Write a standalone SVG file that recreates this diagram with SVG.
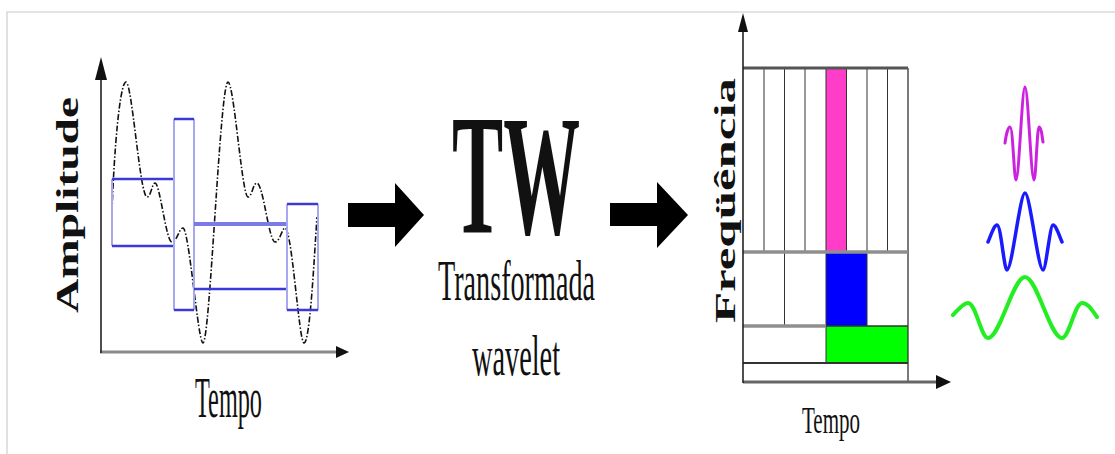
<svg xmlns="http://www.w3.org/2000/svg" width="1115" height="454" viewBox="0 0 1115 454">
<style>
.serif{font-family:"Liberation Serif","Times New Roman",serif;fill:#111}
.bold{font-weight:bold}
.ax{stroke:#222;stroke-width:1.6;fill:none}
.axg{stroke:#8a8a8a;stroke-width:3;fill:none}
.bh{stroke:#3a3ad8;stroke-width:2.5}
.bv{stroke:#a8a8f2;stroke-width:2}
.vl{stroke:#333;stroke-width:1}
.hl{stroke:#8f8f8f;stroke-width:3.5}
</style>
<defs>
<marker id="ah" markerWidth="12" markerHeight="12" viewBox="0 0 12 12" refX="11" refY="6" orient="auto" markerUnits="userSpaceOnUse">
<path d="M0,1 L12,6 L0,11 Z" fill="#111"/>
</marker>
</defs>
<rect width="1115" height="454" fill="#fff"/>
<path d="M7,454 V12 H1115" fill="none" stroke="#dadada" stroke-width="1.6"/>

<g id="signal-plot">
<line class="axg" x1="100" y1="352" x2="338" y2="352"/>
<path d="M336,346 L349,352 L336,358 Z" fill="#111"/>
<line class="ax" x1="101" y1="353" x2="101" y2="70"/>
<path d="M95,80 L101,57 L107,80 Z" fill="#111"/>
<path d="M112,212 C114,150 120,82 126,82 C132,82 140,197 147,197 C151,197 152,183 155,183 C160,183 166,242 172,242 C177,242 179,228 183,228 C189,228 198,343 203,343 C210,343 220,82 228,82 C234,82 242,197 248,197 C252,197 253,183 257,183 C263,183 269,242 275,242 C280,242 282,228 285,228 C292,228 299,343 304,343 C310,343 314,260 317,217" fill="none" stroke="#111" stroke-width="1.6" stroke-dasharray="6 2 1.5 2"/>
<g>
<line class="bv" x1="112" y1="179" x2="112" y2="246"/>
<line class="bh" x1="112" y1="179" x2="174" y2="179"/>
<line class="bh" x1="112" y1="246" x2="174" y2="246"/>
<line class="bv" x1="174" y1="119" x2="174" y2="310"/>
<line class="bv" x1="194" y1="119" x2="194" y2="310"/>
<line class="bh" x1="174" y1="119" x2="194" y2="119"/>
<line class="bh" x1="174" y1="310" x2="194" y2="310"/>
<line x1="194" y1="224" x2="287" y2="224" stroke="#7a7aea" stroke-width="4"/>
<line class="bh" x1="194" y1="289" x2="287" y2="289"/>
<line class="bv" x1="287" y1="204" x2="287" y2="310"/>
<line class="bv" x1="318" y1="204" x2="318" y2="310"/>
<line class="bh" x1="287" y1="204" x2="318" y2="204"/>
<line class="bh" x1="287" y1="310" x2="318" y2="310"/>
</g>
<text class="serif bold" font-size="32" textLength="216" lengthAdjust="spacingAndGlyphs" transform="translate(78,313) rotate(-90)">Amplitude</text>
<text class="serif" x="195" y="417" font-size="58" textLength="67" lengthAdjust="spacingAndGlyphs">Tempo</text>
</g>

<g id="connectors">
<path d="M348,203 H395 V183 L424,215 L395,247 V227 H348 Z" fill="#000"/>
<path d="M610,203 H657 V182 L688,215 L657,248 V226 H610 Z" fill="#000"/>
</g>

<g id="wavelet-transform">
<text class="serif bold" x="452" y="233" font-size="171" textLength="128" lengthAdjust="spacingAndGlyphs" fill="#000">TW</text>
<text class="serif" x="438" y="300" font-size="56" textLength="157" lengthAdjust="spacingAndGlyphs">Transformada</text>
<text class="serif" x="472" y="375" font-size="58" textLength="88" lengthAdjust="spacingAndGlyphs">wavelet</text>
</g>

<g id="time-frequency-plot">
<rect x="826" y="68" width="20.5" height="184" fill="#ff3dc8"/>
<rect x="826" y="252" width="41" height="74" fill="#0000ff"/>
<rect x="826" y="326" width="82" height="37" fill="#00ff00"/>
<g>
<line class="vl" x1="764" y1="68" x2="764" y2="252"/>
<line class="vl" x1="784.5" y1="68" x2="784.5" y2="326"/>
<line class="vl" x1="805" y1="68" x2="805" y2="252"/>
<line class="vl" x1="826" y1="68" x2="826" y2="363"/>
<line class="vl" x1="846.5" y1="68" x2="846.5" y2="252"/>
<line class="vl" x1="867" y1="68" x2="867" y2="326"/>
<line class="vl" x1="887.5" y1="68" x2="887.5" y2="252"/>
<line x1="908" y1="68" x2="908" y2="382" stroke="#333" stroke-width="1.3"/>
</g>
<line x1="743" y1="68" x2="908" y2="68" stroke="#555" stroke-width="3"/>
<line class="hl" x1="743" y1="252" x2="908" y2="252"/>
<line class="hl" x1="743" y1="326" x2="826" y2="326"/>
<line x1="826" y1="326" x2="908" y2="326" stroke="#333" stroke-width="1.5"/>
<line x1="743" y1="363" x2="908" y2="363" stroke="#333" stroke-width="2"/>
<line x1="743" y1="382" x2="938" y2="382" stroke="#666" stroke-width="3"/>
<path d="M936,375 L951,382 L936,389 Z" fill="#111"/>
<line class="ax" x1="743" y1="383" x2="743" y2="28"/>
<path d="M738,32 L743,13 L748,32 Z" fill="#111"/>
<text class="serif bold" font-size="30" textLength="245" lengthAdjust="spacingAndGlyphs" transform="translate(735,323) rotate(-90)">Freqüência</text>
<text class="serif" x="802" y="433" font-size="38" textLength="58" lengthAdjust="spacingAndGlyphs">Tempo</text>
</g>

<g id="wavelets">
<path d="M1005,143 C1006,135 1008,127 1010,127 C1013,127 1014,180 1016,180 C1019,180 1022,87 1025,87 C1028,87 1031,180 1034,180 C1036,180 1037,127 1039,127 C1041,127 1042,135 1043,142" fill="none" stroke="#cc22e0" stroke-width="3" stroke-linecap="round" stroke-linejoin="round"/>
<path d="M988,242 C991,235 994,225 997,225 C1001,225 1004,270 1007,270 C1012,270 1020,193 1025,193 C1030,193 1038,270 1043,270 C1046,270 1050,225 1053,225 C1056,225 1059,235 1062,242" fill="none" stroke="#1a1aff" stroke-width="3.5" stroke-linecap="round" stroke-linejoin="round"/>
<path d="M953,315 C958,310 963,303 968,303 C976,303 981,338 988,338 C1000,338 1013,277 1025,277 C1037,277 1050,338 1062,338 C1069,338 1075,303 1082,303 C1088,303 1092,310 1097,317" fill="none" stroke="#22ee22" stroke-width="4" stroke-linecap="round" stroke-linejoin="round"/>
</g>
</svg>
